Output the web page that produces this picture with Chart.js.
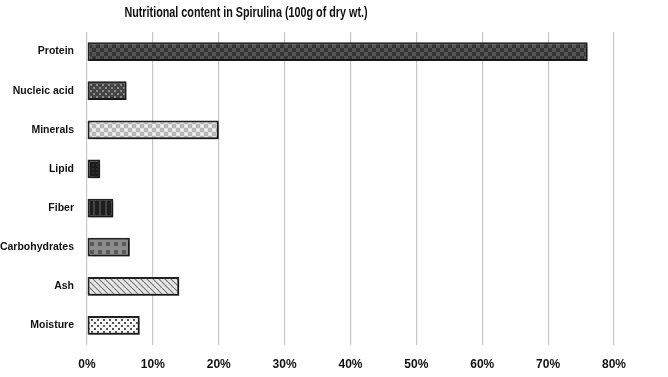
<!DOCTYPE html>
<html>
<head>
<meta charset="utf-8">
<script src="https://cdn.jsdelivr.net/npm/chart.js@4"></script>
<style>
  html, body { margin: 0; padding: 0; background: #fff; }
  #wrap { position: relative; width: 668px; height: 377px; }
  #title {
    position: absolute; left: 0; width: 492px; top: 4px; text-align: center;
    font: bold 14px "Liberation Sans", Arial, sans-serif;
    color: #111; transform: scaleX(0.77); transform-origin: 246px 0;
    white-space: nowrap;
  }
</style>
</head>
<body>
<div id="wrap">
  <div id="title">Nutritional content in Spirulina (100g of dry wt.)</div>
  <canvas id="chart" width="668" height="377"></canvas>
</div>
<script>
// Spirulina composition, % of 100 g dry weight
const categories = ["Protein", "Nucleic acid", "Minerals", "Lipid", "Fiber", "Carbohydrates", "Ash", "Moisture"];
const percentages = [76, 6, 20, 2, 4, 6.5, 14, 8];
const xTicks = [0, 10, 20, 30, 40, 50, 60, 70, 80];

const FONT = '"Liberation Sans", Arial, sans-serif';

// ---------- fill patterns (one per bar) ----------
function makePattern(size, draw) {
  const c = document.createElement("canvas");
  c.width = size; c.height = size;
  draw(c.getContext("2d"), size);
  return c.getContext("2d").createPattern(c, "repeat");
}

const patterns = [
  // Protein: dark checker
  makePattern(8, (g, s) => {
    g.fillStyle = "#353535"; g.fillRect(0, 0, s, s);
    g.fillStyle = "#545454"; g.fillRect(0, 0, 4, 4); g.fillRect(4, 4, 4, 4);
  }),
  // Nucleic acid: dark with light dots
  makePattern(6, (g, s) => {
    g.fillStyle = "#454545"; g.fillRect(0, 0, s, s);
    g.fillStyle = "#8a8a8a"; g.fillRect(0, 0, 2, 2); g.fillRect(3, 3, 2, 2);
  }),
  // Minerals: light checker
  makePattern(8, (g, s) => {
    g.fillStyle = "#e0e0e0"; g.fillRect(0, 0, s, s);
    g.fillStyle = "#b8b8b8"; g.fillRect(0, 0, 4, 4); g.fillRect(4, 4, 4, 4);
    g.fillStyle = "#f4f4f4"; g.fillRect(1, 5, 2, 2); g.fillRect(5, 1, 2, 2);
  }),
  // Lipid: near black
  makePattern(4, (g, s) => {
    g.fillStyle = "#1c1c1c"; g.fillRect(0, 0, s, s);
    g.fillStyle = "#2a2a2a"; g.fillRect(0, 0, 2, 2);
  }),
  // Fiber: black with vertical stripes
  makePattern(6, (g, s) => {
    g.fillStyle = "#1e1e1e"; g.fillRect(0, 0, s, s);
    g.fillStyle = "#444"; g.fillRect(3, 0, 2, s);
  }),
  // Carbohydrates: grey with dark dots
  makePattern(8, (g, s) => {
    g.fillStyle = "#8c8c8c"; g.fillRect(0, 0, s, s);
    g.fillStyle = "#5a5a5a"; g.fillRect(2, 2, 4, 4);
  }),
  // Ash: light diagonal hatch
  makePattern(6, (g, s) => {
    g.fillStyle = "#e6e6e6"; g.fillRect(0, 0, s, s);
    g.strokeStyle = "#7a7a7a"; g.lineWidth = 1.2;
    g.beginPath(); g.moveTo(0, 0); g.lineTo(s, s); g.stroke();
    g.beginPath(); g.moveTo(-s, 0); g.lineTo(0, s); g.stroke();
    g.beginPath(); g.moveTo(s, 0); g.lineTo(2 * s, s); g.stroke();
  }),
  // Moisture: white with dark dots
  makePattern(6, (g, s) => {
    g.fillStyle = "#f6f6f6"; g.fillRect(0, 0, s, s);
    g.fillStyle = "#555"; g.fillRect(1, 1, 2, 2); g.fillRect(4, 4, 2, 2);
  }),
];

// soft drop shadow under the bars
const barShadow = {
  id: "barShadow",
  beforeDatasetsDraw(chart) {
    const ctx = chart.ctx;
    ctx.save();
    ctx.shadowColor = "rgba(0,0,0,0.4)";
    ctx.shadowBlur = 3;
    ctx.shadowOffsetX = 2;
    ctx.shadowOffsetY = 2;
  },
  afterDatasetsDraw(chart) {
    chart.ctx.restore();
  },
};

new Chart(document.getElementById("chart"), {
  type: "bar",
  data: {
    labels: categories,
    datasets: [{
      data: percentages,
      backgroundColor: patterns,
      borderColor: "#222",
      borderWidth: 2,
      borderSkipped: false,
      categoryPercentage: 0.92,
      barPercentage: 0.52,
    }],
  },
  options: {
    indexAxis: "y",
    responsive: false,
    animation: false,
    layout: { padding: { top: 32, right: 54, bottom: 0, left: 0 } },
    plugins: { legend: { display: false }, tooltip: { enabled: false }, title: { display: false } },
    scales: {
      x: {
        min: 0, max: 80,
        afterBuildTicks: (axis) => { axis.ticks = xTicks.map((v) => ({ value: v })); },
        afterFit: (scale) => { scale.height = 32; },
        ticks: { color: "#111", font: { family: FONT, size: 12, weight: "bold" }, padding: 12, callback: (v) => v + "%" },
        grid: { color: "#c8c8c8", lineWidth: 1.2, drawTicks: true, tickLength: 0 },
        border: { display: false },
      },
      y: {
        afterFit: (scale) => { scale.width = 87; },
        ticks: { color: "#111", font: { family: FONT, size: 10.5, weight: "bold" }, padding: 13 },
        grid: { display: false, drawTicks: false },
        border: { display: false },
      },
    },
  },
  plugins: [barShadow],
});
</script>
</body>
</html>
